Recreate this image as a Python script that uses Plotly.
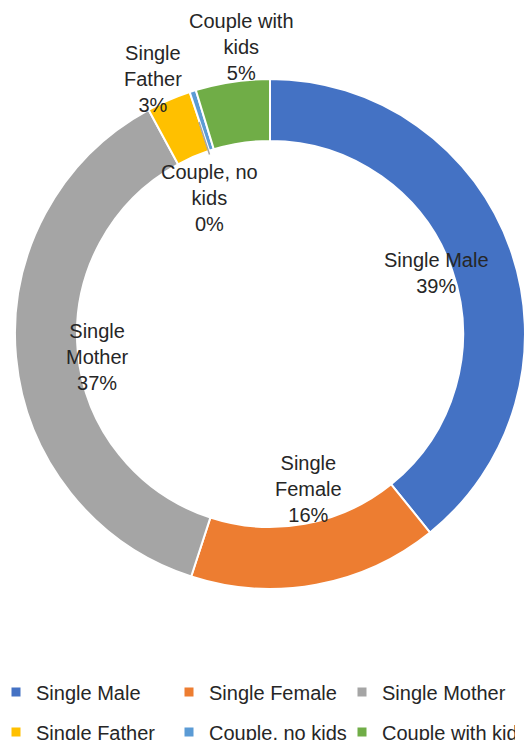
import plotly.graph_objects as go

categories = ["Single Male", "Single Female", "Single Mother", "Single Father", "Couple, no kids", "Couple with kids"]
values = [39.2, 15.8, 37.1, 2.8, 0.4, 4.7]
colors = ["#4472C4", "#ED7D31", "#A5A5A5", "#FFC000", "#5B9BD5", "#70AD47"]
label_lines = ["Single Male", "Single<br>Female", "Single<br>Mother", "Single<br>Father", "Couple, no<br>kids", "Couple with<br>kids"]
# label centre positions in pixels (x, y from top)
label_pos = [(436, 273), (308, 489), (97, 357), (153, 79), (209, 198), (241, 47)]

W, H = 529, 740
MB = 80                 # bottom margin: legends sit below the plot area
PH = H - MB             # plot-area height
FONT = "Liberation Sans, Arial, sans-serif"


def px_x(x):
    return x / W


def px_y(y):
    return (PH - y) / PH


total = sum(values)
pcts = [round(v / total * 100) for v in values]

fig = go.Figure()
fig.add_trace(go.Pie(
    labels=categories, values=values, sort=False, direction="clockwise", rotation=0,
    hole=0.757, marker=dict(colors=colors, line=dict(color="white", width=2)),
    textinfo="none", hoverinfo="label+percent", showlegend=False,
    domain=dict(x=[px_x(15), px_x(525)], y=[px_y(589), px_y(79)]),
))

for i, (c, col) in enumerate(zip(categories, colors)):
    fig.add_trace(go.Scatter(
        x=[None], y=[None], mode="markers", name=c,
        marker=dict(symbol="square", size=9, color=col),
        legend="legend" if i < 3 else "legend2", showlegend=True,
    ))

annotations = []
for txt, p, (px, py) in zip(label_lines, pcts, label_pos):
    annotations.append(dict(
        x=px_x(px), y=px_y(py), xref="paper", yref="paper",
        text=f"{txt}<br>{p}%", showarrow=False, align="center",
        xanchor="center", yanchor="middle",
        font=dict(family=FONT, size=20, color="#262626"),
    ))
# leader line for the tiny slice
annotations.append(dict(
    x=px_x(199), y=px_y(122), xref="paper", yref="paper", text="",
    showarrow=True, arrowhead=0, arrowwidth=1.5, arrowcolor="#A6A6A6",
    ax=11, ay=34, standoff=0, startstandoff=0,
))

legend_common = dict(
    orientation="h", entrywidth=128, entrywidthmode="pixels",
    xanchor="left", yanchor="middle", itemwidth=30,
    font=dict(family=FONT, size=20, color="#262626"),
    bgcolor="rgba(0,0,0,0)", itemclick=False, itemdoubleclick=False,
)

fig.update_layout(
    width=W, height=H, margin=dict(l=0, r=0, t=0, b=MB, autoexpand=False),
    paper_bgcolor="white", plot_bgcolor="white",
    xaxis=dict(visible=False), yaxis=dict(visible=False),
    legend=dict(x=px_x(-4), y=px_y(692), **legend_common),
    legend2=dict(x=px_x(-4), y=px_y(732), **legend_common),
    annotations=annotations,
)

fig.write_html("out.html", config={"displayModeBar": False},
               post_script="document.body.style.margin='0';")
